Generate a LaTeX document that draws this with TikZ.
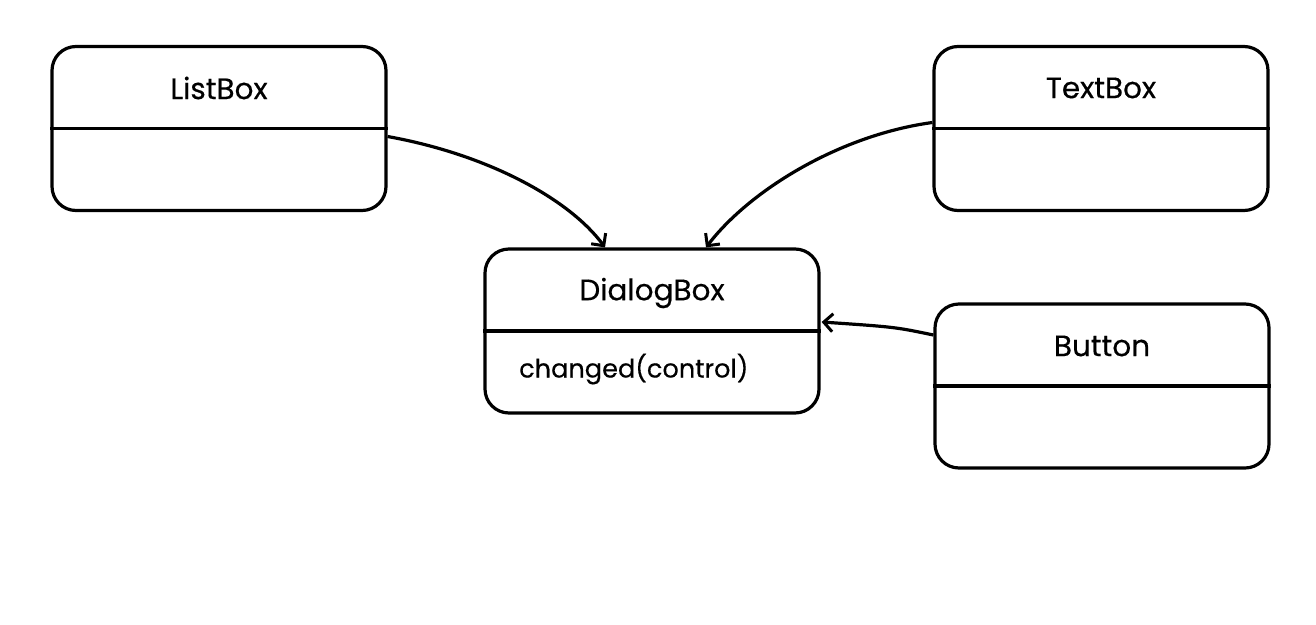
\documentclass[tikz,border=0pt]{standalone}
\usepackage{fontspec}
\setmainfont{Poppins}[FakeBold=0.4]
\usetikzlibrary{arrows.meta,calc}
\begin{document}
\begin{tikzpicture}[x=1pt,y=-1pt,
  cls/.style={draw,line width=3.2pt,rounded corners=24pt,minimum width=334pt,minimum height=164pt,inner sep=0pt},
  ttl/.style={font=\fontsize{29.5}{34}\selectfont},
  mth/.style={font=\fontsize{25.6}{30}\selectfont,inner sep=0pt},
  conn/.style={line width=3.2pt,-{Straight Barb[length=9pt,width=18pt,line width=3pt]}}]
\useasboundingbox[fill=white] (0,0) rectangle (1316,624);
\node[cls] (lb) at (219,128.5) {};
\node[cls] (tb) at (1101,128.5) {};
\node[cls] (db) at (652,331) {};
\node[cls] (bt) at (1102,386) {};
\foreach \n in {lb,tb,db,bt} \draw[line width=3.2pt] (\n.west) -- (\n.east);
\node[ttl] (lbt) at (219,88) {ListBox};
\node[ttl] (tbt) at (1101,88) {TextBox};
\node[ttl] (dbt) at (652,293) {DialogBox};
\node[mth,anchor=west] (dbm) at (519,369) {changed(control)};
\node[ttl] (btt) at (1102,346) {Button};
\coordinate (lbo) at ($(lb.east)+(0,8)$);
\coordinate (tbo) at ($(tb.west)+(0,-6)$);
\coordinate (bto) at ($(bt.west)+(0,-51)$);
\coordinate (dbl) at ($(db.north)+(-47,0)$);
\coordinate (dbr) at ($(db.north)+(54,0)$);
\coordinate (dbe) at ($(db.east)+(1,-9)$);
\draw[conn] (lbo) .. controls (490,155) and (570,200) .. (dbl);
\draw[conn] (tbo) .. controls (840,135) and (750,190) .. (dbr);
\draw[conn] (bto) .. controls (895,327) .. (dbe);
\end{tikzpicture}
\end{document}
